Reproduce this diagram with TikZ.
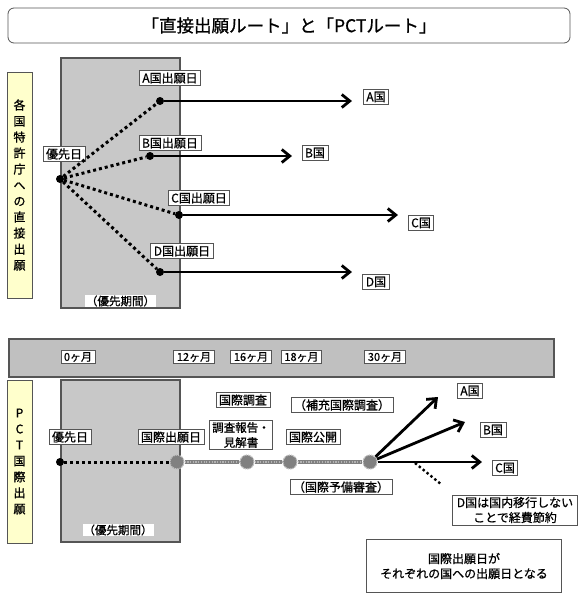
\documentclass[tikz,border=0pt]{standalone}
\usepackage{fontspec}
\setmainfont{Noto Sans CJK JP}[FakeBold=0.8]
\usepackage{tikz}
\usepackage{xcolor}
\usetikzlibrary{positioning, arrows.meta}
\definecolor{barfill}{HTML}{C0C0C0}
\definecolor{periodfill}{HTML}{C8C8C8}
\definecolor{sideyellow}{HTML}{FFFFCC}
\definecolor{edgegrey}{HTML}{555555}

\begin{document}
\begin{tikzpicture}[x=1pt, y=-1pt,
  lbl/.style={draw=edgegrey, fill=white, line width=0.8pt, inner xsep=3pt, inner ysep=2pt, font=\fontsize{12}{15}\selectfont},
  sidebox/.style={draw=edgegrey, fill=sideyellow, line width=1pt, minimum width=25pt, align=center, font=\fontsize{12}{16}\selectfont},
  periodlbl/.style={fill=white, inner sep=1pt, font=\fontsize{11.5}{13}\selectfont},
  monthlbl/.style={lbl, font=\fontsize{11}{14}\selectfont},
  dot/.style={circle, fill=black, inner sep=0pt, minimum size=8pt},
  bead/.style={circle, fill=black!50, draw=black!25, densely dotted, line width=1.2pt, inner sep=0pt, minimum size=14pt},
  dotline/.style={line width=3pt, dash pattern=on 3pt off 3pt},
  arr/.style={line width=2.8pt, -{Straight Barb[length=8pt,width=13pt]}}]
  \fill[white] (0,0) rectangle (582,600);
  \useasboundingbox (0,0) rectangle (582,600);

  \node[draw=edgegrey, line width=0.8pt, rounded corners=6pt, minimum width=562pt, minimum height=35pt,
    font=\fontsize{17.5}{20}\selectfont] (title) at (289,25.5) {「直接出願ルート」と「PCTルート」};

  % direct filing
  \filldraw[fill=periodfill, draw=edgegrey, line width=1.2pt] (61,58) rectangle (180,308);
  \node[sidebox, minimum height=226pt] (direct) at (19.5,185) {各\\国\\特\\許\\庁\\へ\\の\\直\\接\\出\\願};
  \node[periodlbl] (period1) at (120.5,301) {（優先期間）};

  \node[dot] (prio) at (60,179) {};
  \node[lbl] (priolbl) at (64,154) {優先日};
  \node[dot] (dotA) at (160,101) {};
  \node[dot] (dotB) at (150,156) {};
  \node[dot] (dotC) at (179,215) {};
  \node[dot] (dotD) at (160,272) {};
  \node[lbl] (lblA) at (170,78) {A国出願日};
  \node[lbl] (lblB) at (170,143) {B国出願日};
  \node[lbl] (lblC) at (199,198) {C国出願日};
  \node[lbl] (lblD) at (182,251) {D国出願日};
  \coordinate (endA) at (352,101);
  \coordinate (endB) at (292,156);
  \coordinate (endC) at (398,215);
  \coordinate (endD) at (352,272);
  \node[lbl] (cA) at (376,97) {A国};
  \node[lbl] (cB) at (315,153) {B国};
  \node[lbl] (cC) at (421,223) {C国};
  \node[lbl] (cD) at (376,282) {D国};

  \draw[dotline] (prio) -- (dotA);
  \draw[dotline] (prio) -- (dotB);
  \draw[dotline] (prio) -- (dotC);
  \draw[dotline] (prio) -- (dotD);
  \draw[arr] (dotA) -- (endA);
  \draw[arr] (dotB) -- (endB);
  \draw[arr] (dotC) -- (endC);
  \draw[arr] (dotD) -- (endD);

  % months
  \filldraw[fill=barfill, draw=edgegrey, line width=1.2pt] (9,339) rectangle (554,377);
  \node[monthlbl] (m0) at (78,357) {0ヶ月};
  \node[monthlbl] (m12) at (194,357) {12ヶ月};
  \node[monthlbl] (m16) at (251,357) {16ヶ月};
  \node[monthlbl] (m18) at (301.5,357) {18ヶ月};
  \node[monthlbl] (m30) at (385,357) {30ヶ月};

  % PCT filing
  \filldraw[fill=periodfill, draw=edgegrey, line width=1.2pt] (61,380) rectangle (180,542);
  \node[sidebox, minimum height=163pt] (pct) at (19.5,461.5) {P\\C\\T\\国\\際\\出\\願};
  \node[periodlbl] (period2) at (118,530) {（優先期間）};

  \node[dot] (prio2) at (60,462) {};
  \node[lbl] (prio2lbl) at (70,437) {優先日};
  \node[bead] (b12) at (177,462) {};
  \node[bead] (b16) at (247,462) {};
  \node[bead] (b18) at (290,462) {};
  \node[bead] (b30) at (370,462) {};
  \node[lbl] (filelbl) at (171,437) {国際出願日};
  \node[lbl] (search) at (243,400) {国際調査};
  \node[lbl, align=center, font=\fontsize{11.5}{15}\selectfont] (report) at (241,435) {調査報告・\\見解書};
  \node[lbl] (publish) at (313,437) {国際公開};
  \node[lbl] (suppl) at (342,405) {（補充国際調査）};
  \node[lbl] (prelim) at (341,487) {（国際予備審査）};

  \coordinate (pA) at (438,397);
  \coordinate (pB) at (465,422);
  \coordinate (pC) at (482,462);
  \coordinate (dStart) at (415,463);
  \coordinate (pD) at (442,485);
  \node[lbl] (pcA) at (470,391) {A国};
  \node[lbl] (pcB) at (493,430) {B国};
  \node[lbl] (pcC) at (505,468) {C国};
  \node[lbl, align=center, minimum width=125pt] (noteD) at (515,510) {D国は国内移行しない\\ことで経費節約};
  \node[lbl, align=center, minimum width=195pt, minimum height=53pt] (summary) at (464,566)
    {国際出願日が\\それぞれの国への出願日となる};

  \draw[dotline] (prio2) -- (b12);
  \draw[line width=4.5pt, black!50] (b12) -- (b16) -- (b18) -- (b30);
  \draw[line width=2pt, black!30, dash pattern=on 1.2pt off 1.5pt] (b12) -- (b16) -- (b18) -- (b30);
  \draw[arr] (b30) -- (pA);
  \draw[arr] (b30) -- (pB);
  \draw[arr] (b30) -- (pC);
  \draw[line width=2.4pt, dash pattern=on 2.4pt off 2.6pt] (dStart) -- (pD);
\end{tikzpicture}
\end{document}
